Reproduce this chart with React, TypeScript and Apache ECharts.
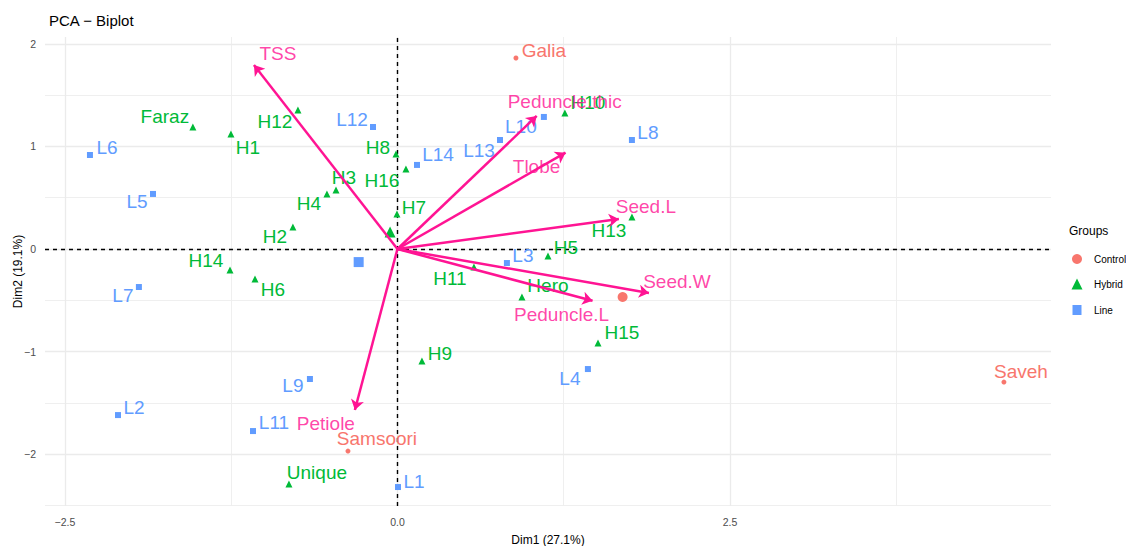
import React, { useEffect, useRef } from "react";
import * as echarts from "echarts";

// ---------- data ----------
const controlNames = ["Galia", "Samsoori", "Saveh"];
const controlX = [0.891, -0.372, 4.56];
const controlY = [1.863, -1.971, -1.298];

const hybridNames = ["Faraz", "H1", "H12", "H8", "H16", "H3", "H4", "H7", "H2", "H14", "H6", "H10", "H13", "H5", "H11", "Hero", "H15", "H9", "Unique"];
const hybridX = [-1.538, -1.252, -0.748, -0.011, 0.064, -0.462, -0.53, -0.004, -0.786, -1.259, -1.071, 1.259, 1.763, 1.132, 0.575, 0.936, 1.508, 0.184, -0.816];
const hybridY = [1.19, 1.122, 1.356, 0.927, 0.78, 0.576, 0.537, 0.341, 0.215, -0.205, -0.293, 1.327, 0.312, -0.068, -0.176, -0.468, -0.917, -1.093, -2.293];

const lineNames = ["L6", "L5", "L7", "L2", "L11", "L9", "L1", "L12", "L14", "L13", "L10", "L8", "L3", "L4"];
const lineX = [-2.312, -1.838, -1.944, -2.101, -1.086, -0.658, 0.004, -0.184, 0.147, 0.771, 1.101, 1.763, 0.823, 1.432];
const lineY = [0.917, 0.537, -0.371, -1.62, -1.776, -1.268, -2.322, 1.19, 0.82, 1.063, 1.288, 1.063, -0.137, -1.171];

const varNames = ["TSS", "Peduncle.thic", "Tlobe", "Seed.L", "Seed.W", "Peduncle.L", "Petiole"];
const varX = [-1.079, 1.047, 1.264, 1.665, 1.891, 1.467, -0.32];
const varY = [1.795, 1.298, 0.94, 0.293, -0.429, -0.505, -1.57];

const groupNames = ["Control", "Hybrid", "Line"];

const xTicks = [-2.5, 0, 2.5];
const yTicks = [-2, -1, 0, 1, 2];
const xMinor = [-1.25, 1.25, 3.75];
const yMinor = [-2.5, -1.5, -0.5, 0.5, 1.5];

const xLabel = "Dim1 (27.1%)";
const yLabel = "Dim2 (19.1%)";
const titleText = "PCA \u2212 Biplot";

// ---------- styles ----------
const FONT = "'Liberation Sans', Arial, Helvetica, sans-serif";
const groupColors: Record<string, string> = { Control: "#F8766D", Hybrid: "#00BA38", Line: "#619CFF" };
const groupSymbols: Record<string, string> = { Control: "circle", Hybrid: "triangle", Line: "rect" };
const groupSizes: Record<string, number> = { Control: 5, Hybrid: 7, Line: 6 };
const centroidSizes: Record<string, number> = { Control: 10, Hybrid: 11, Line: 10 };
const varColor = "#FF1493";

const labelOffset: Record<string, [number, number]> = {
  Galia: [28, -8], Samsoori: [29, -13], Saveh: [17, -11],
  Faraz: [-28, -11], H1: [17, 14], H12: [-23, 12], H8: [-18, -6], H16: [-24, 11], H3: [8, -12], H4: [-18, 10],
  H7: [17, -7], H2: [-18, 10], H14: [-24, -10], H6: [18, 10], H10: [23, -10], H13: [-23, 13], H5: [18, -8],
  H11: [-24, 11], Hero: [26, -11], H15: [24, -11], H9: [18, -8], Unique: [28, -12],
  L6: [17, -7], L5: [-16, 8], L7: [-16, 8], L2: [16, -8], L11: [21, -9], L9: [-17, 7], L1: [16, -6],
  L12: [-21, -8], L14: [21, -10], L13: [-21, 10], L10: [-23, 10], L8: [16, -8], L3: [16, -8], L4: [-18, 9],
  TSS: [24, -11], "Peduncle.thic": [28, -14], Tlobe: [-29, 14], "Seed.L": [27, -12], "Seed.W": [28, -11],
  "Peduncle.L": [-31, 14], Petiole: [-29, 14],
};

const minus = (s: string) => s.replace("-", "\u2212");
const mean = (a: number[]) => a.reduce((s, v) => s + v, 0) / a.length;

export default function App() {
  const ref = useRef<HTMLDivElement>(null);
  useEffect(() => {
    const chart = echarts.init(ref.current!, null, { renderer: "svg" });

    const groups: Record<string, { names: string[]; xs: number[]; ys: number[] }> = {
      Control: { names: controlNames, xs: controlX, ys: controlY },
      Hybrid: { names: hybridNames, xs: hybridX, ys: hybridY },
      Line: { names: lineNames, xs: lineX, ys: lineY },
    };

    const pointSeries = groupNames.map((g) => {
      const d = groups[g];
      return {
        type: "scatter",
        name: g,
        symbol: groupSymbols[g],
        symbolSize: groupSizes[g],
        itemStyle: { color: groupColors[g], opacity: 1 },
        silent: true,
        z: 5,
        label: {
          show: true,
          position: "inside",
          formatter: "{b}",
          color: groupColors[g],
          fontSize: 19,
          fontFamily: FONT,
        },
        data: d.names.map((n, i) => ({
          name: n,
          value: [d.xs[i], d.ys[i]],
          label: { offset: labelOffset[n] || [0, -12] },
        })),
      };
    });

    const centroidSeries = groupNames.map((g) => {
      const d = groups[g];
      return {
        type: "scatter",
        name: g + " centroid",
        symbol: groupSymbols[g],
        symbolSize: centroidSizes[g],
        itemStyle: { color: groupColors[g], opacity: 1 },
        silent: true,
        z: 5,
        data: [[mean(d.xs), mean(d.ys)]],
      };
    });

    const gridSeries = (vx: number[], vy: number[], width: number, color: string, type: any, z: number) => ({
      type: "scatter",
      data: [],
      silent: true,
      z,
      markLine: {
        silent: true,
        symbol: ["none", "none"],
        label: { show: false },
        animation: false,
        lineStyle: { color, width, type },
        emphasis: { disabled: true },
        data: [...vx.map((v) => ({ xAxis: v })), ...vy.map((v) => ({ yAxis: v }))],
      },
    });

    const legendGraphics: any[] = [
      {
        type: "text",
        left: 1069,
        top: 225,
        style: { text: "Groups", font: `12px ${FONT}`, fill: "#000" },
      },
    ];
    groupNames.forEach((g, i) => {
      const cy = 259 + i * 25.5;
      const cx = 1077;
      const c = groupColors[g];
      if (g === "Control") {
        legendGraphics.push({ type: "circle", shape: { cx, cy, r: 5 }, style: { fill: c } });
      } else if (g === "Hybrid") {
        legendGraphics.push({
          type: "polygon",
          shape: { points: [[cx, cy - 6], [cx - 5.5, cy + 5], [cx + 5.5, cy + 5]] },
          style: { fill: c },
        });
      } else {
        legendGraphics.push({ type: "rect", shape: { x: cx - 4.5, y: cy - 5, width: 9, height: 10 }, style: { fill: c } });
      }
      legendGraphics.push({
        type: "text",
        x: 1094,
        y: cy,
        style: { text: g, font: `10px ${FONT}`, fill: "#000", verticalAlign: "middle", textVerticalAlign: "middle" },
      });
    });

    const option: any = {
      animation: false,
      backgroundColor: "#ffffff",
      title: {
        text: titleText,
        left: 44,
        top: 8,
        textStyle: { fontSize: 15, fontWeight: "normal", color: "#000", fontFamily: FONT },
      },
      grid: { left: 45, right: 75, top: 37, bottom: 40, containLabel: false, outerBoundsMode: "none" },
      xAxis: {
        type: "value",
        min: -2.65,
        max: 4.914,
        axisLine: { show: false },
        splitLine: { show: false },
        axisTick: { show: true, customValues: xTicks, length: 3, lineStyle: { color: "#333", width: 1 } },
        axisLabel: {
          customValues: xTicks,
          formatter: (v: number) => minus(v.toFixed(1)),
          fontSize: 10.5,
          color: "#4D4D4D",
          margin: 10,
          fontFamily: FONT,
        },
        name: xLabel,
        nameLocation: "middle",
        nameGap: 28,
        nameMoveOverlap: false,
        nameTextStyle: { fontSize: 12, color: "#000", fontFamily: FONT },
      },
      yAxis: {
        type: "value",
        min: -2.507,
        max: 2.068,
        axisLine: { show: false },
        splitLine: { show: false },
        axisTick: { show: true, customValues: yTicks, length: 3, lineStyle: { color: "#333", width: 1 } },
        axisLabel: {
          customValues: yTicks,
          formatter: (v: number) => minus(String(v)),
          fontSize: 10.5,
          color: "#4D4D4D",
          margin: 9,
          fontFamily: FONT,
        },
        name: yLabel,
        nameLocation: "middle",
        nameGap: 21,
        nameMoveOverlap: false,
        nameTextStyle: { fontSize: 12, color: "#000", fontFamily: FONT },
      },
      graphic: legendGraphics,
      series: [
        gridSeries(xMinor, yMinor, 0.9, "#EDEDED", "solid", 1),
        gridSeries(xTicks, yTicks, 1.3, "#EBEBEB", "solid", 1),
        gridSeries([0], [0], 1.4, "#000000", [4, 4], 2),
        ...pointSeries,
        ...centroidSeries,
        {
          type: "lines",
          coordinateSystem: "cartesian2d",
          silent: true,
          z: 6,
          symbol: ["none", "arrow"],
          symbolSize: 10,
          lineStyle: { color: varColor, width: 2.5, opacity: 1 },
          data: varNames.map((n, i) => ({ coords: [[0, 0], [varX[i], varY[i]]] })),
        },
        {
          type: "scatter",
          name: "variables",
          symbolSize: 0,
          silent: true,
          z: 7,
          label: {
            show: true,
            position: "inside",
            formatter: "{b}",
            color: varColor,
            fontSize: 19,
            fontFamily: FONT,
          },
          data: varNames.map((n, i) => ({
            name: n,
            value: [varX[i], varY[i]],
            label: { offset: labelOffset[n] || [0, -12] },
          })),
        },
      ],
    };

    chart.setOption(option);
    return () => chart.dispose();
  }, []);

  return <div ref={ref} style={{ position: "fixed", left: 0, top: 0, width: 1126, height: 546 }} />;
}
